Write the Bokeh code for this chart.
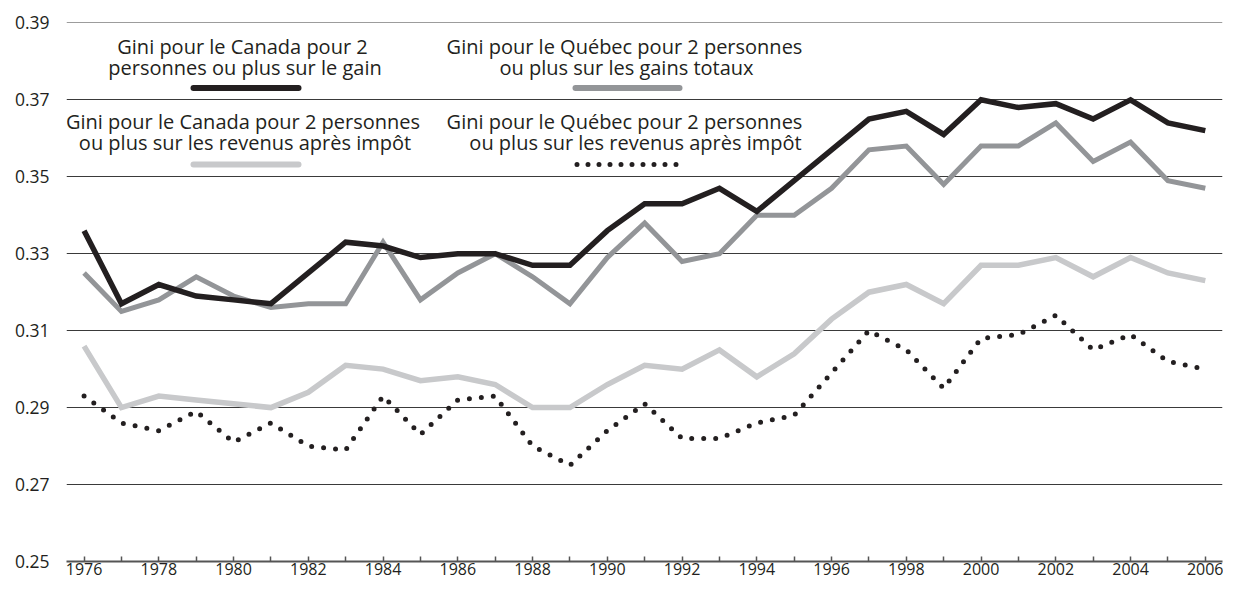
from bokeh.plotting import figure
from bokeh.models import FixedTicker, Label, Arrow, Range1d
from bokeh.embed import file_html
from bokeh.resources import INLINE

# ---------------- data ----------------
years = [1976, 1977, 1978, 1979, 1980, 1981, 1982, 1983, 1984, 1985, 1986,
         1987, 1988, 1989, 1990, 1991, 1992, 1993, 1994, 1995, 1996, 1997,
         1998, 1999, 2000, 2001, 2002, 2003, 2004, 2005, 2006]

canada_gain = [0.336, 0.317, 0.322, 0.319, 0.318, 0.317, 0.325, 0.333, 0.332, 0.329, 0.330,
               0.330, 0.327, 0.327, 0.336, 0.343, 0.343, 0.347, 0.341, 0.349, 0.357, 0.365,
               0.367, 0.361, 0.370, 0.368, 0.369, 0.365, 0.370, 0.364, 0.362]

quebec_gains = [0.325, 0.315, 0.318, 0.324, 0.319, 0.316, 0.317, 0.317, 0.333, 0.318, 0.325,
                0.330, 0.324, 0.317, 0.329, 0.338, 0.328, 0.330, 0.340, 0.340, 0.347, 0.357,
                0.358, 0.348, 0.358, 0.358, 0.364, 0.354, 0.359, 0.349, 0.347]

canada_after_tax = [0.306, 0.290, 0.293, 0.292, 0.291, 0.290, 0.294, 0.301, 0.300, 0.297, 0.298,
                    0.296, 0.290, 0.290, 0.296, 0.301, 0.300, 0.305, 0.298, 0.304, 0.313, 0.320,
                    0.322, 0.317, 0.327, 0.327, 0.329, 0.324, 0.329, 0.325, 0.323]

quebec_after_tax = [0.293, 0.286, 0.284, 0.289, 0.281, 0.286, 0.280, 0.279, 0.293, 0.283, 0.292,
                    0.293, 0.280, 0.275, 0.284, 0.291, 0.282, 0.282, 0.286, 0.288, 0.299, 0.310,
                    0.305, 0.295, 0.308, 0.309, 0.314, 0.305, 0.309, 0.302, 0.300]

x_ticks = [1976, 1978, 1980, 1982, 1984, 1986, 1988, 1990, 1992, 1994, 1996, 1998, 2000, 2002, 2004, 2006]
x_minor_ticks = [1977, 1979, 1981, 1983, 1985, 1987, 1989, 1991, 1993, 1995, 1997, 1999, 2001, 2003, 2005]
y_ticks = [0.25, 0.27, 0.29, 0.31, 0.33, 0.35, 0.37, 0.39]
y_tick_labels = ["0.25", "0.27", "0.29", "0.31", "0.33", "0.35", "0.37", "0.39"]

legend_texts = [
    ["Gini pour le Canada pour 2", "personnes ou plus sur le gain"],
    ["Gini pour le Québec pour 2 personnes", "ou plus sur les gains totaux"],
    ["Gini pour le Canada pour 2 personnes", "ou plus sur les revenus après impôt"],
    ["Gini pour le Québec pour 2 personnes", "ou plus sur les revenus après impôt"],
]

# ---------------- styles ----------------
FONT = "Open Sans"
INK = "#231f20"
DARK_GRAY = "#939598"
LIGHT_GRAY = "#c8c9cb"

p = figure(width=1223, height=584, output_backend="svg", toolbar_location=None,
           x_range=Range1d(1975.53, 2006.46), y_range=Range1d(0.25, 0.3901),
           min_border_left=66, min_border_right=1, min_border_top=22, min_border_bottom=23)
p.outline_line_color = None
p.background_fill_color = "white"
p.border_fill_color = "white"

p.xgrid.visible = False
p.ygrid.ticker = FixedTicker(ticks=y_ticks)
p.ygrid.grid_line_color = "#3a3a3a"
p.ygrid.grid_line_width = 1

p.yaxis.ticker = FixedTicker(ticks=y_ticks)
p.yaxis.major_label_overrides = {t: s for t, s in zip(y_ticks, y_tick_labels)}
p.yaxis.axis_line_color = None
p.yaxis.major_tick_line_color = None
p.yaxis.minor_tick_line_color = None
p.yaxis.major_label_standoff = 11
p.yaxis.major_label_text_font = FONT
p.yaxis.major_label_text_font_size = "17.5px"
p.yaxis.major_label_text_color = INK

p.xaxis.ticker = FixedTicker(ticks=x_ticks, minor_ticks=x_minor_ticks)
p.xaxis.axis_line_color = "#555555"
p.xaxis.axis_line_width = 2
p.xaxis.major_tick_in = 5
p.xaxis.major_tick_out = 0
p.xaxis.minor_tick_in = 5
p.xaxis.minor_tick_out = 0
p.xaxis.major_tick_line_color = "#555555"
p.xaxis.minor_tick_line_color = "#555555"
p.xaxis.major_tick_line_width = 1.5
p.xaxis.minor_tick_line_width = 1.5
p.xaxis.major_label_standoff = 1
p.xaxis.major_label_text_font = FONT
p.xaxis.major_label_text_font_size = "16px"
p.xaxis.major_label_text_color = INK

# ---------------- series ----------------
p.line(years, canada_after_tax, line_color=LIGHT_GRAY, line_width=5.5, line_join="miter")
p.line(years, quebec_after_tax, line_color=INK, line_width=5, line_dash="0 12", line_cap="round")
p.line(years, quebec_gains, line_color=DARK_GRAY, line_width=5, line_join="miter")
p.line(years, canada_gain, line_color=INK, line_width=5.5, line_join="miter")

# ---------------- legend (screen px, origin at bottom-left of plot frame) ----------------
legend_anchor = [
    [(176, 515.5), (178.5, 494)],
    [(558, 515.5), (560, 494)],
    [(176.5, 440), (178.5, 419)],
    [(558, 440), (569, 419)],
]
swatches = [
    (127, 232, 473.5, INK, None, 6),
    (509, 613, 473.5, DARK_GRAY, None, 6),
    (127, 232, 397, LIGHT_GRAY, None, 6),
    (510.5, 610, 397, INK, "0 11", 5),
]
for anchors, lines in zip(legend_anchor, legend_texts):
    for (sx, sy), t in zip(anchors, lines):
        p.add_layout(Label(x=sx, y=sy, x_units="screen", y_units="screen",
                           text=t, text_align="center", text_baseline="alphabetic",
                           text_font=FONT, text_font_size="20px", text_color=INK))
for x0, x1, sy, col, dash, w in swatches:
    kw = dict(line_dash=dash) if dash else {}
    p.add_layout(Arrow(start=None, end=None, x_start=x0, y_start=sy, x_end=x1, y_end=sy,
                       start_units="screen", end_units="screen", line_color=col,
                       line_width=w, line_cap="round", **kw))

open("out.html", "w").write(file_html(p, INLINE))
